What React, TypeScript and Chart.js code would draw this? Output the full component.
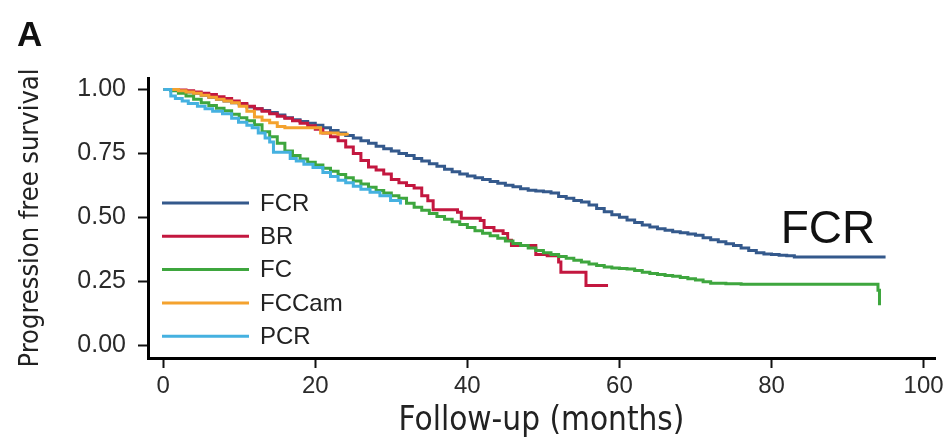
import React, { useEffect, useRef } from "react";
import { Chart, registerables } from "chart.js";

Chart.register(...registerables);

// ---- data ----
const xTicks = [0, 20, 40, 60, 80, 100];
const yTicks = [0, 0.25, 0.5, 0.75, 1.0];

const fcrMonths = [0,1,2,3,4,5,6,7,8,9,10,11,12,13,14,15,16,17,18,19,20,21,22,23,24,25,26,27,28,29,30,31,32,33,34,35,36,37,38,39,40,41,42,43,44,45,46,47,48,49,50,51,52,53,54,55,56,57,58,59,60,61,62,63,64,65,66,67,68,69,70,71,72,73,74,75,76,77,78,79,80,81,82,83,95];
const fcrSurvival = [1.0,0.998,0.995,0.99,0.985,0.978,0.97,0.962,0.955,0.948,0.94,0.932,0.925,0.918,0.91,0.9,0.89,0.882,0.875,0.868,0.86,0.85,0.84,0.83,0.82,0.81,0.8,0.79,0.778,0.768,0.76,0.75,0.742,0.73,0.72,0.71,0.7,0.688,0.678,0.67,0.662,0.655,0.648,0.64,0.633,0.626,0.62,0.612,0.606,0.603,0.6,0.595,0.582,0.575,0.566,0.56,0.548,0.535,0.522,0.51,0.5,0.49,0.48,0.47,0.462,0.455,0.45,0.444,0.44,0.435,0.43,0.42,0.412,0.405,0.397,0.39,0.38,0.37,0.362,0.357,0.355,0.352,0.35,0.345,0.345];

const brMonths = [0,1,2,3,4,5,6,7,8,9,10,11,12,13,14,15,16,17,18,19,20,21,22,23,24,25,26,27,28,29,30,31,32,33,34,34.8,35.5,38.7,39.2,41.7,42.2,43.5,44.7,45.3,45.8,48.3,49,50.5,52,52.3,55.3,55.6,58.5];
const brSurvival = [1.0,1.0,0.998,0.995,0.99,0.985,0.98,0.972,0.965,0.955,0.945,0.935,0.925,0.915,0.905,0.895,0.888,0.878,0.868,0.858,0.845,0.83,0.815,0.8,0.775,0.75,0.722,0.697,0.685,0.67,0.648,0.635,0.625,0.615,0.585,0.565,0.53,0.52,0.497,0.488,0.46,0.448,0.437,0.41,0.39,0.39,0.355,0.35,0.325,0.285,0.285,0.234,0.234];

const fcMonths = [0,1,2,3,4,5,6,7,8,9,10,11,12,13,14,15,16,17,18,19,20,21,22,23,24,25,26,27,28,29,30,31,32,33,34,35,36,37,38,39,40,41,42,43,44,45,46,47,48,49,50,51,52,53,54,55,56,57,58,59,60,61,62,63,64,65,66,67,68,69,70,71,72,74,76,93.7,94,94.2];
const fcSurvival = [1.0,0.995,0.985,0.975,0.962,0.948,0.937,0.927,0.917,0.903,0.89,0.878,0.862,0.835,0.815,0.79,0.76,0.742,0.728,0.716,0.705,0.692,0.68,0.668,0.655,0.642,0.63,0.618,0.605,0.595,0.585,0.575,0.555,0.54,0.528,0.515,0.503,0.493,0.483,0.472,0.46,0.448,0.438,0.428,0.418,0.408,0.398,0.39,0.38,0.37,0.362,0.355,0.347,0.34,0.332,0.325,0.318,0.312,0.306,0.302,0.3,0.298,0.292,0.285,0.28,0.277,0.273,0.27,0.265,0.26,0.255,0.248,0.242,0.24,0.238,0.238,0.215,0.156];

const fccamMonths = [0,1,2,3,4,5,6,7,8,9,10,11,12,13,14,15,16,19.7,20.7,23,24.2];
const fccamSurvival = [1.0,1.0,0.995,0.99,0.985,0.978,0.97,0.962,0.955,0.948,0.935,0.915,0.892,0.88,0.87,0.855,0.85,0.85,0.83,0.825,0.82];

const pcrMonths = [0,1,1.6,2.5,3.3,4.5,5.5,6.5,7.8,9,9.9,11,11.7,12.5,13.4,14,14.5,15.8,16.7,17.5,18.5,19.7,21,22,23,24,25,26,27.2,28.5,29.9,31.2];
const pcrSurvival = [1.0,0.975,0.965,0.955,0.945,0.935,0.925,0.915,0.905,0.888,0.872,0.86,0.85,0.83,0.81,0.795,0.755,0.755,0.73,0.72,0.708,0.695,0.675,0.66,0.645,0.635,0.622,0.61,0.598,0.585,0.566,0.55];

const seriesLabels = ["FCR", "BR", "FC", "FCCam", "PCR"];
const seriesColors = ["#34598c", "#c3173f", "#3ea63e", "#f4a22e", "#45b1e0"];

const panelLetter = "A";
const annotationText = "FCR";
const annotationAt = { x: 81.2, y: 0.4 };

const NARROW = "'Liberation Sans Narrow', 'DejaVu Sans Condensed', 'Liberation Sans', sans-serif";
const SANS = "'Liberation Sans', Arial, Helvetica, sans-serif";

function toPoints(xs: number[], ys: number[]) {
  return xs.map((x, i) => ({ x, y: ys[i] }));
}

const overlayPlugin = {
  id: "overlay",
  afterDatasetsDraw(chart: any) {
    const ctx = chart.ctx as CanvasRenderingContext2D;
    const area = chart.chartArea;
    ctx.save();
    // legend inside plot
    const lx0 = area.left + 14;
    const lx1 = area.left + 101;
    const tx = area.left + 112;
    const y0 = 203;
    const dy = 33.3;
    ctx.font = `24px ${SANS}`;
    ctx.textBaseline = "middle";
    ctx.textAlign = "left";
    chart.data.datasets.forEach((ds: any, i: number) => {
      const y = y0 + i * dy;
      ctx.strokeStyle = ds.borderColor;
      ctx.lineWidth = 3;
      ctx.beginPath();
      ctx.moveTo(lx0, y);
      ctx.lineTo(lx1, y);
      ctx.stroke();
      ctx.fillStyle = "#222";
      ctx.fillText(ds.label, tx, y + 1);
    });
    // annotation
    const xs = chart.scales.x;
    const ys = chart.scales.y;
    ctx.font = `46px ${SANS}`;
    ctx.textBaseline = "alphabetic";
    ctx.fillStyle = "#111";
    ctx.fillText(annotationText, xs.getPixelForValue(annotationAt.x), ys.getPixelForValue(annotationAt.y));
    // panel letter
    ctx.font = `bold 35px ${SANS}`;
    ctx.fillStyle = "#111";
    ctx.fillText(panelLetter, 17, 46);
    ctx.restore();
  },
};

export default function App() {
  const ref = useRef<HTMLCanvasElement | null>(null);
  useEffect(() => {
    document.body.style.margin = "0";
    if (!ref.current) return;
    const all = [
      [fcrMonths, fcrSurvival],
      [brMonths, brSurvival],
      [fcMonths, fcSurvival],
      [fccamMonths, fccamSurvival],
      [pcrMonths, pcrSurvival],
    ];
    const chart = new Chart(ref.current, {
      type: "line",
      data: {
        datasets: all.map((s, i) => ({
          label: seriesLabels[i],
          data: toPoints(s[0] as number[], s[1] as number[]),
          borderColor: seriesColors[i],
          backgroundColor: seriesColors[i],
          borderWidth: 3,
          pointRadius: 0,
          stepped: true,
          fill: false,
          order: 5 - i,
        })),
      },
      options: {
        animation: false,
        responsive: false,
        devicePixelRatio: 1,
        layout: { padding: { left: 0, right: 16, top: 78, bottom: 0 } },
        plugins: { legend: { display: false }, tooltip: { enabled: false } },
        scales: {
          x: {
            type: "linear",
            min: -2,
            max: 101.5,
            afterBuildTicks: (scale: any) => {
              scale.ticks = xTicks.map((v) => ({ value: v }));
            },
            afterFit: (scale: any) => {
              scale.height = 83;
            },
            grid: { display: true, drawOnChartArea: false, drawTicks: true, tickLength: 10, tickWidth: 2, tickColor: "#111" },
            border: { display: true, width: 3, color: "#000" },
            ticks: { font: { family: SANS, size: 24 }, color: "#2a2a2a", padding: 4, maxRotation: 0, autoSkip: false },
            title: { display: true, text: "Follow-up (months)", font: { family: NARROW, size: 33 }, color: "#222", padding: { top: 0, bottom: 0 } },
          },
          y: {
            type: "linear",
            min: -0.05,
            max: 1.045,
            afterBuildTicks: (scale: any) => {
              scale.ticks = yTicks.map((v) => ({ value: v }));
            },
            afterFit: (scale: any) => {
              scale.width = 148;
            },
            grid: { display: true, drawOnChartArea: false, drawTicks: true, tickLength: 10, tickWidth: 2, tickColor: "#111" },
            border: { display: true, width: 3, color: "#000" },
            ticks: {
              font: { family: SANS, size: 25 },
              color: "#2a2a2a",
              padding: 12,
              autoSkip: false,
              callback: (v: any) => Number(v).toFixed(2),
            },
            title: { display: true, text: "Progression free survival", font: { family: NARROW, size: 27 }, color: "#222", padding: { top: 15, bottom: 0 } },
          },
        },
      },
      plugins: [overlayPlugin],
    });
    return () => chart.destroy();
  }, []);
  return (
    <div style={{ width: 951, height: 441, background: "#fff" }}>
      <canvas ref={ref} width={951} height={441} />
    </div>
  );
}
